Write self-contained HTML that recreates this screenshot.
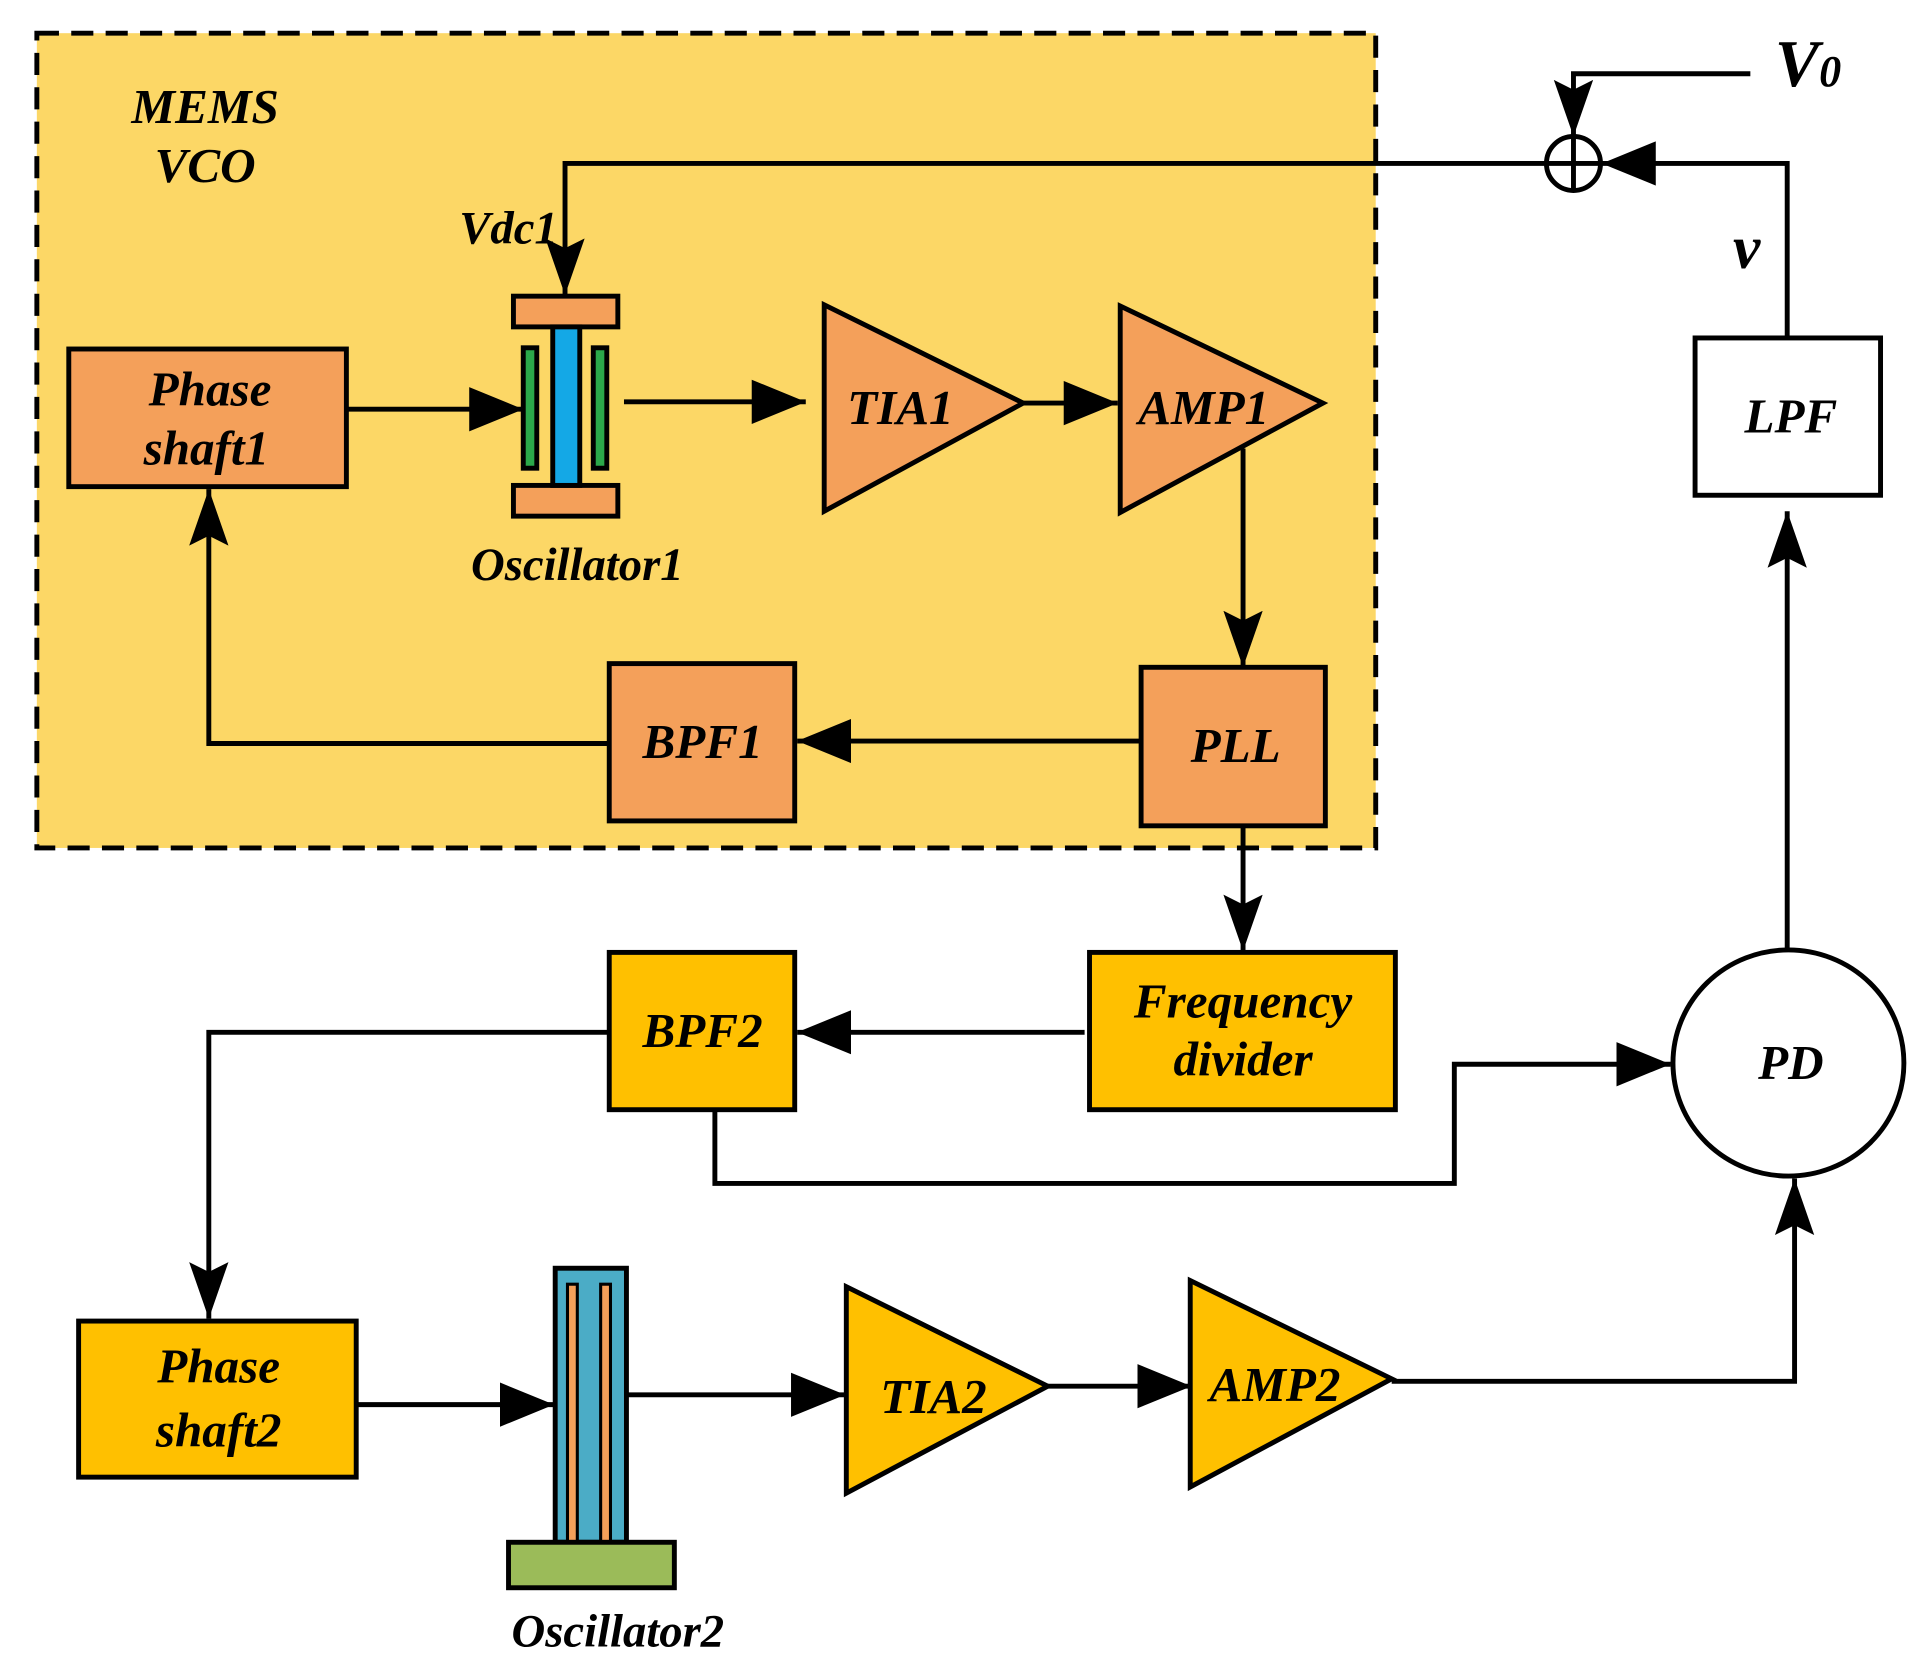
<!DOCTYPE html>
<html><head><meta charset="utf-8"><style>html,body{margin:0;padding:0;background:#fff}svg{display:block}
text{font-family:"Liberation Serif",serif;font-style:italic;font-weight:bold;fill:#000;text-anchor:middle}</style></head>
<body>
<svg width="1926" height="1675" viewBox="0 0 1568 1363" preserveAspectRatio="none" xmlns="http://www.w3.org/2000/svg">
<defs>
<marker id="a" markerUnits="userSpaceOnUse" markerWidth="50" markerHeight="40" refX="44" refY="18" orient="auto"><path d="M0,0 L44,18 L0,36 Z" fill="#000"/></marker>
<marker id="b" markerUnits="userSpaceOnUse" markerWidth="50" markerHeight="40" refX="46" refY="16" orient="auto"><path d="M0,0 L46,16 L0,32 L8,16 Z" fill="#000"/></marker>
</defs>
<rect x="30" y="27" width="1090" height="663" fill="#FCD766" stroke="#000" stroke-width="4" stroke-dasharray="18,10"/>
<text x="167" y="100" font-size="40">MEMS</text>
<text x="167" y="148" font-size="40">VCO</text>
<g stroke="#000" stroke-width="4" fill="none">
<polyline points="1258,133 460,133 460,240" marker-end="url(#b)"/>
<polyline points="1455,275 1455,133 1304,133" marker-end="url(#a)"/>
<polyline points="1425,60 1281,60 1281,111" marker-end="url(#b)"/>
<line x1="282" y1="333" x2="426" y2="333" marker-end="url(#a)"/>
<line x1="508" y1="327" x2="656" y2="327" marker-end="url(#a)"/>
<line x1="833" y1="328" x2="910" y2="328" marker-end="url(#a)"/>
<line x1="1012" y1="365" x2="1012" y2="543" marker-end="url(#b)"/>
<line x1="929" y1="603" x2="649" y2="603" marker-end="url(#a)"/>
<polyline points="496,605 170,605 170,398" marker-end="url(#b)"/>
<line x1="1012" y1="672" x2="1012" y2="774" marker-end="url(#b)"/>
<line x1="1455" y1="772" x2="1455" y2="416" marker-end="url(#b)"/>
<line x1="883" y1="840" x2="649" y2="840" marker-end="url(#a)"/>
<polyline points="496,840 170,840 170,1073" marker-end="url(#b)"/>
<polyline points="582,903 582,963 1184,963 1184,866 1360,866" marker-end="url(#a)"/>
<line x1="290" y1="1143" x2="451" y2="1143" marker-end="url(#a)"/>
<line x1="510" y1="1135" x2="688" y2="1135" marker-end="url(#a)"/>
<line x1="853" y1="1128" x2="970" y2="1128" marker-end="url(#a)"/>
<polyline points="1133,1124 1461,1124 1461,959" marker-end="url(#b)"/>
</g>
<g stroke="#000" stroke-width="4">
<circle cx="1281" cy="133" r="22" fill="#fff"/>
<line x1="1259" y1="133" x2="1303" y2="133"/><line x1="1281" y1="111" x2="1281" y2="155"/>
<rect x="56" y="284" width="226" height="112" fill="#F4A05A"/>
<rect x="418" y="241" width="85" height="25" fill="#F4A05A"/>
<rect x="418" y="395" width="85" height="25" fill="#F4A05A"/>
<rect x="450" y="266" width="22" height="129" fill="#14A8E6"/>
<rect x="426" y="283" width="11" height="98" fill="#2BA84A"/>
<rect x="483" y="283" width="11" height="98" fill="#2BA84A"/>
<polygon points="671,248 671,416 833,328" fill="#F4A05A"/>
<polygon points="912,249 912,417 1077,328" fill="#F4A05A"/>
<rect x="929" y="543" width="150" height="129" fill="#F4A05A"/>
<rect x="496" y="540" width="151" height="128" fill="#F4A05A"/>
<rect x="1380" y="275" width="151" height="128" fill="#fff"/>
<ellipse cx="1456" cy="865" rx="94" ry="92" fill="#fff"/>
<rect x="887" y="775" width="249" height="128" fill="#FFC000"/>
<rect x="496" y="775" width="151" height="128" fill="#FFC000"/>
<rect x="64" y="1075" width="226" height="127" fill="#FFC000"/>
<rect x="452" y="1032" width="58" height="223" fill="#4BACC6"/>
<rect x="462" y="1045" width="8" height="210" fill="#F4A05A" stroke-width="2.5"/>
<rect x="489" y="1045" width="8" height="210" fill="#F4A05A" stroke-width="2.5"/>
<rect x="414" y="1255" width="135" height="37" fill="#9BBB59"/>
<polygon points="689,1047 689,1215 853,1128" fill="#FFC000"/>
<polygon points="969,1042 969,1210 1133,1122" fill="#FFC000"/>
</g>
<text x="1472" y="70" font-size="54">V<tspan font-size="36">0</tspan></text>
<text x="1422" y="218" font-size="50">v</text>
<text x="414" y="198" font-size="38">Vdc1</text>
<text x="171" y="330" font-size="40">Phase</text>
<text x="168" y="378" font-size="40">shaft1</text>
<text x="733" y="345" font-size="40">TIA1</text>
<text x="980" y="345" font-size="40">AMP1</text>
<text x="470" y="472" font-size="38">Oscillator1</text>
<text x="572" y="617" font-size="40">BPF1</text>
<text x="1006" y="620" font-size="40">PLL</text>
<text x="1458" y="352" font-size="40">LPF</text>
<text x="1012" y="828" font-size="40">Frequency</text>
<text x="1012" y="875" font-size="40">divider</text>
<text x="572" y="852" font-size="40">BPF2</text>
<text x="1458" y="878" font-size="40">PD</text>
<text x="178" y="1125" font-size="40">Phase</text>
<text x="178" y="1177" font-size="40">shaft2</text>
<text x="760" y="1150" font-size="40">TIA2</text>
<text x="1038" y="1140" font-size="40">AMP2</text>
<text x="503" y="1340" font-size="38">Oscillator2</text>
</svg>
</body></html>
